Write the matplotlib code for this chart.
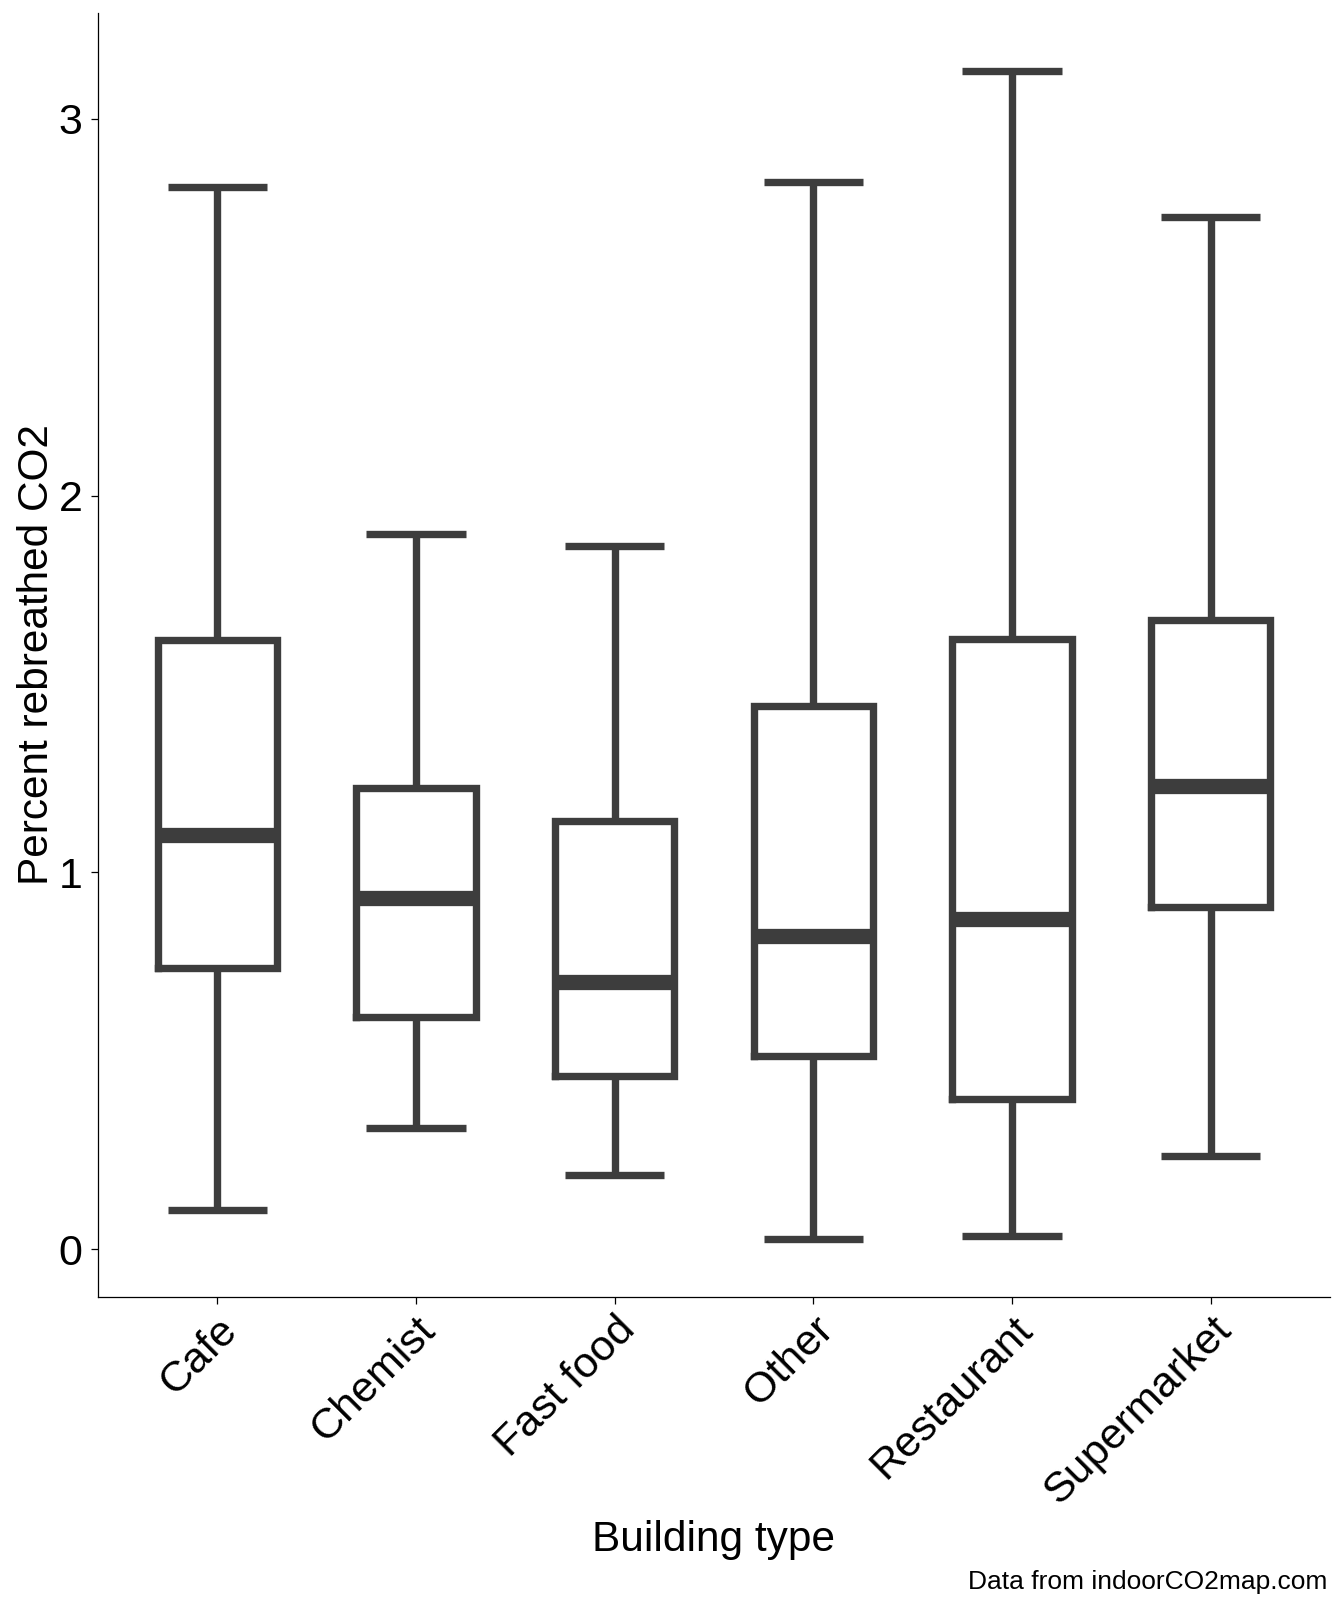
import matplotlib
matplotlib.use("Agg")
import matplotlib.pyplot as plt

# building types and box statistics
categories = ["Cafe", "Chemist", "Fast food", "Other", "Restaurant", "Supermarket"]
whisker_low = [0.104, 0.322, 0.197, 0.027, 0.036, 0.246]
q1 = [0.746, 0.617, 0.459, 0.514, 0.399, 0.907]
medians = [1.098, 0.932, 0.708, 0.831, 0.877, 1.230]
q3 = [1.617, 1.224, 1.137, 1.443, 1.620, 1.669]
whisker_high = [2.820, 1.899, 1.866, 2.833, 3.128, 2.740]

plt.rcParams['font.family'] = ['Liberation Sans', 'DejaVu Sans']

box_col = "#3d3d3d"

# build stats for bxp
stats = []
for i, name in enumerate(categories):
    stats.append({
        "label": name,
        "whislo": whisker_low[i],
        "q1": q1[i],
        "med": medians[i],
        "q3": q3[i],
        "whishi": whisker_high[i],
        "fliers": [],
    })

fig = plt.figure(figsize=(13.44, 16.12), dpi=100)
ax = fig.add_axes([0.0729, 0.1954, 0.9167, 0.7965])

positions = list(range(1, len(categories) + 1))
ax.bxp(stats, positions=positions, widths=0.6, capwidths=0.5,
       showfliers=False, patch_artist=False,
       boxprops=dict(color=box_col, linewidth=5.3, solid_joinstyle="miter"),
       whiskerprops=dict(color=box_col, linewidth=5.3, solid_capstyle="butt"),
       capprops=dict(color=box_col, linewidth=5.3, solid_capstyle="butt"),
       medianprops=dict(color=box_col, linewidth=11, solid_capstyle="butt"))

ax.set_xlim(0.4, len(categories) + 0.6)
ax.set_ylim(-0.127, 3.281)
ax.set_yticks([0, 1, 2, 3])
ax.set_yticklabels(["0", "1", "2", "3"])
ax.set_xticks(positions)
ax.set_xticklabels(categories, rotation=45, ha="right", va="top",
                   rotation_mode="anchor")

for side in ["top", "right"]:
    ax.spines[side].set_visible(False)
for side in ["left", "bottom"]:
    ax.spines[side].set_linewidth(0.9)
    ax.spines[side].set_color("black")

ax.tick_params(axis="both", length=5, width=0.9, color="black",
               labelsize=31, labelcolor="black", pad=6)
ax.tick_params(axis="x", pad=4)

ax.set_xlabel("Building type", fontsize=30.5, labelpad=6)
ax.set_ylabel("Percent rebreathed CO2", fontsize=30.5, labelpad=1)

fig.text(0.988, 0.011, "Data from indoorCO2map.com", ha="right", va="bottom",
         fontsize=19)

fig.savefig("out.png", dpi=100, facecolor="white")
